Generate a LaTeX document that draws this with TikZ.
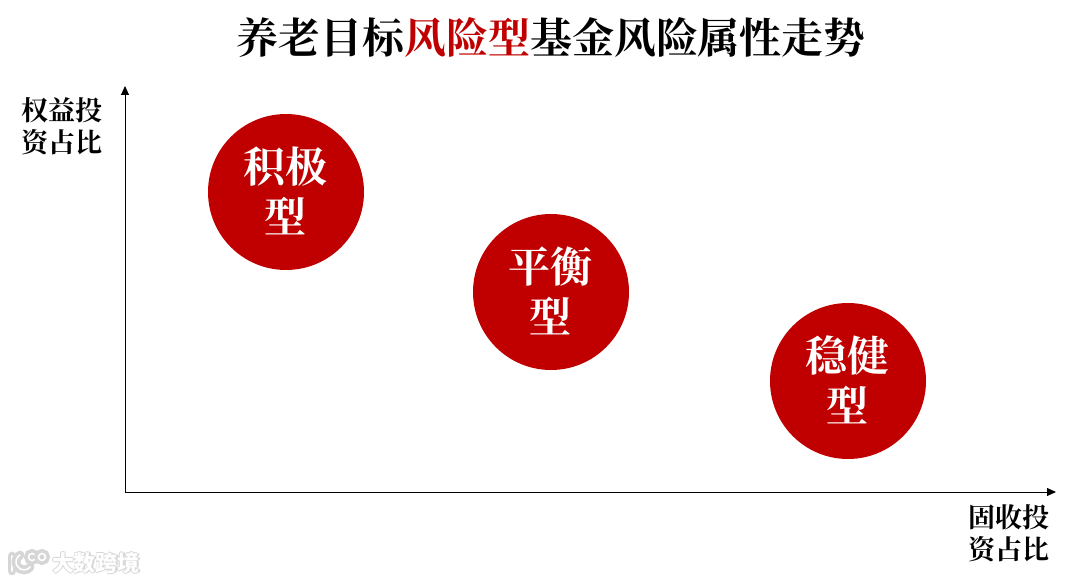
\documentclass[tikz,border=0pt]{standalone}
\usepackage{fontspec}
\newfontfamily\cjk{Noto Serif CJK SC}[BoldFont={Noto Serif CJK SC Bold}]
\newfontfamily\cjksans{Noto Sans CJK SC}
\usetikzlibrary{arrows.meta}
\definecolor{riskred}{RGB}{192,0,0}
\begin{document}
\begin{tikzpicture}[x=1pt,y=-1pt,font=\cjk\bfseries]

	\tikzset{axis/.style={draw,line width=0.9pt,-{Triangle[length=9pt,width=8pt]}}}
	\tikzset{bubble/.style={shape=circle,fill=riskred,text=white,inner sep=0pt,minimum width=156pt,align=center,font=\cjk\bfseries\fontsize{42}{50}\selectfont}}
	\tikzset{bubbletext/.style={inner sep=0pt,text=white,align=center,font=\cjk\bfseries\fontsize{42}{50}\selectfont}}
	\tikzset{axislabel/.style={inner sep=0pt,align=center,font=\cjk\bfseries\fontsize{27}{32}\selectfont}}
	\tikzset{markline/.style={draw=black!16,line width=3.6pt,double=white,double distance=1.6pt,line cap=round}}
	\tikzset{marktext/.style={inner sep=0pt,font=\cjksans\bfseries\fontsize{22}{24}\selectfont}}

	\useasboundingbox (0,0) rectangle (1080,583);

	\node[inner sep=0pt,font=\cjk\bfseries\fontsize{42}{48}\selectfont] (title) at (551,38) {养老目标\textcolor{riskred}{风险型}基金风险属性走势};

	\coordinate (origin) at (125,492);
	\coordinate (ytip) at (125,86);
	\coordinate (xtip) at (1056,492);
	\path[axis] (origin) -- (ytip);
	\path[axis] (origin) -- (xtip);

	\node[axislabel] (ylabel) at (62,127) {权益投\\资占比};
	\node[axislabel] (xlabel) at (1008.5,534) {固收投\\资占比};

	\node[bubble] (active) at (286,192) {};
	\node[bubble] (balance) at (551,292) {};
	\node[bubble] (steady) at (848,381) {};
	\node[bubbletext] (activetext) at (285.5,190.5) {积极\\型};
	\node[bubbletext] (balancetext) at (550.5,290.5) {平衡\\型};
	\node[bubbletext] (steadytext) at (847.5,379.5) {稳健\\型};

	% watermark
	\path[markline] (12,556) -- (12,571);
	\path[markline] (20,555) arc (-120:-320:8);
	\path[markline] (32,557) circle (3.5);
	\path[markline] (42,557) circle (3.5);
	\foreach \dx/\dy in {-1/0,1/0,0/-1,0/1}
		\node[marktext,text=black!16] at (96+\dx,563+\dy) {大数跨境};
	\node[marktext,text=white] (mark) at (96,563) {大数跨境};

\end{tikzpicture}
\end{document}
